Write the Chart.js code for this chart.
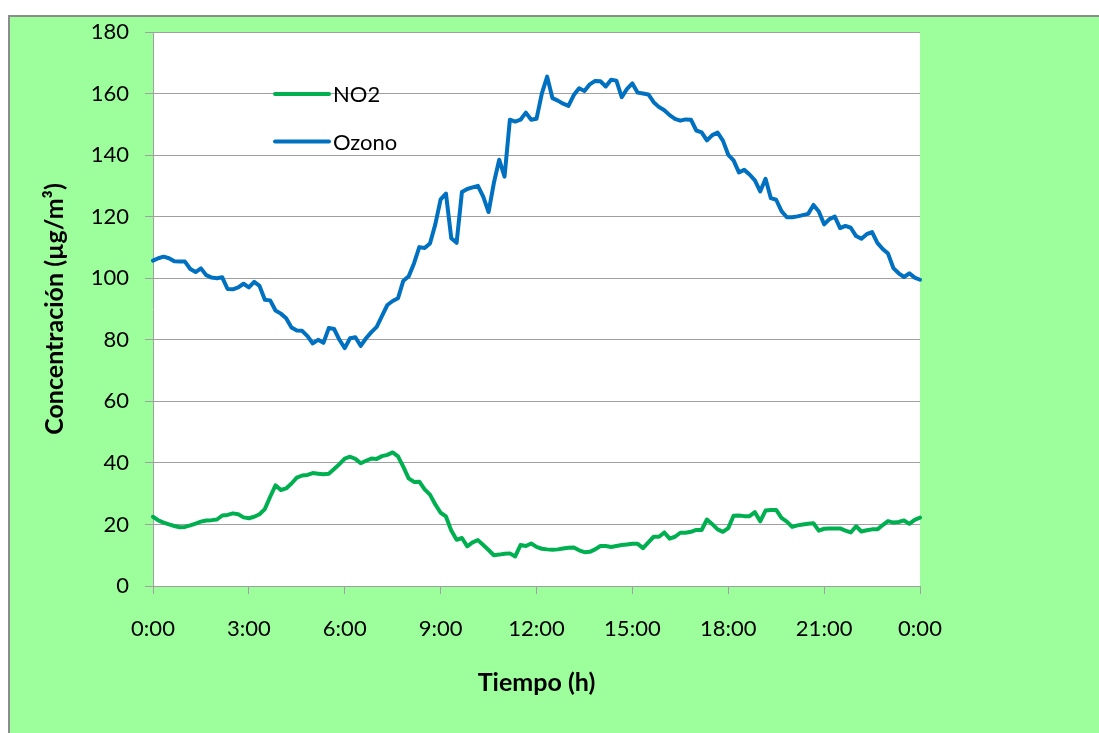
<!DOCTYPE html>
<html>
<head>
<meta charset="utf-8">
<script src="https://cdn.jsdelivr.net/npm/chart.js@4"></script>
<style>
    html, body { margin: 0; padding: 0; background: #fff; }
    #wrap { position: relative; width: 1099px; height: 733px; overflow: hidden; }
    #bg { position: absolute; left: 8px; top: 15px; width: 1200px; height: 800px; background: #9cff9c; border-left: 2px solid #8c8c8c; border-top: 2px solid #8c8c8c; }
    canvas { position: absolute; left: 0; top: 0; }
</style>
</head>
<body>
<div id="wrap">
    <div id="bg"></div>
    <canvas id="chart" width="1099" height="733"></canvas>
</div>
<script>
// one reading every 10 minutes, 0:00 to 24:00
const times = [];
for (let m = 0; m <= 24 * 60; m += 10) {
    times.push(Math.floor(m / 60) % 24 + ':' + String(m % 60).padStart(2, '0'));
}
const seriesNames = ['NO2', 'Ozono'];
const no2 = [
    22.5, 21.3, 20.6, 20, 19.5, 19.1, 19.2, 19.7, 20.3, 20.9,
    21.3, 21.4, 21.6, 22.9, 23.1, 23.6, 23.3, 22.3, 22, 22.5,
    23.3, 25, 29, 32.7, 31.2, 31.7, 33.3, 35.2, 35.9, 36.1,
    36.7, 36.5, 36.3, 36.5, 38, 39.6, 41.4, 42, 41.3, 39.9,
    40.7, 41.4, 41.3, 42.2, 42.6, 43.4, 42.1, 38.7, 35, 33.8,
    33.9, 31.4, 29.7, 26.5, 23.8, 22.6, 18, 15, 15.6, 12.9,
    14.2, 14.9, 13.3, 11.7, 10, 10.2, 10.5, 10.6, 9.6, 13.3,
    13, 13.8, 12.7, 12.1, 11.9, 11.8, 11.9, 12.2, 12.4, 12.5,
    11.6, 11, 11.1, 11.9, 13, 13, 12.7, 13, 13.3, 13.5,
    13.7, 13.7, 12.3, 14.2, 16, 16, 17.4, 15.4, 16, 17.3,
    17.3, 17.6, 18.2, 18.2, 21.6, 20.1, 18.4, 17.6, 18.8, 22.8,
    22.9, 22.7, 22.7, 24, 21, 24.5, 24.7, 24.7, 22.1, 20.9,
    19.2, 19.7, 20, 20.2, 20.4, 18, 18.6, 18.7, 18.7, 18.7,
    18, 17.4, 19.4, 17.7, 18.1, 18.4, 18.4, 19.8, 21.1, 20.6,
    20.8, 21.3, 20.2, 21.5, 22.2
];
const ozono = [
    105.7, 106.5, 107, 106.5, 105.5, 105.4, 105.4, 103, 102, 103.2,
    101, 100.2, 100, 100.3, 96.5, 96.4, 97, 98.2, 97, 98.8,
    97.5, 93, 92.8, 89.5, 88.5, 87, 84, 83, 82.9, 81.2,
    78.8, 80, 79, 83.8, 83.5, 80, 77.3, 80.5, 80.8, 78,
    80.5, 82.5, 84.2, 87.8, 91.3, 92.6, 93.5, 99.2, 100.6, 104.8,
    110.1, 109.8, 111.3, 117.5, 125.6, 127.5, 113, 111.5, 128, 129,
    129.5, 130, 126.5, 121.5, 131, 138.5, 133, 151.5, 150.9, 151.5,
    153.8, 151.5, 151.8, 160, 165.5, 158.5, 157.7, 156.7, 156, 159.5,
    161.7, 160.8, 163, 164.1, 164, 162.3, 164.5, 164.2, 158.8, 161.5,
    163.3, 160.3, 160, 159.7, 157.2, 155.6, 154.6, 153, 151.8, 151.2,
    151.6, 151.5, 148, 147.4, 144.8, 146.5, 147.3, 144.7, 140.1, 138.3,
    134.4, 135.2, 133.7, 131.8, 128.2, 132.3, 126, 125.5, 121.8, 119.8,
    119.8, 120.1, 120.5, 120.9, 123.8, 121.7, 117.5, 119.2, 120, 116.3,
    117, 116.4, 113.7, 112.8, 114.3, 115, 111.5, 109.5, 108, 103.3,
    101.6, 100.4, 101.6, 100.2, 99.5
];
const colors = ['#00b050', '#0070c0'];

const fontFamily = 'Lato, "Open Sans", sans-serif';
const gridColor = '#a0a0a0';

// white plot area on the green chart background
const plotBackground = {
    id: 'plotBackground',
    beforeDraw(chart) {
        const a = chart.chartArea;
        chart.ctx.save();
        chart.ctx.fillStyle = '#fff';
        chart.ctx.fillRect(a.left, a.top, a.right - a.left, a.bottom - a.top);
        chart.ctx.restore();
    }
};

// legend drawn inside the plot, like the spreadsheet one
const innerLegend = {
    id: 'innerLegend',
    afterDatasetsDraw(chart) {
        const ctx = chart.ctx;
        const area = chart.chartArea;
        ctx.save();
        ctx.font = '22px ' + fontFamily;
        ctx.textBaseline = 'middle';
        chart.data.datasets.forEach((ds, i) => {
            const y = area.top + 62 + i * 47.5;
            const x = area.left + 122;
            ctx.strokeStyle = ds.borderColor;
            ctx.lineWidth = 4;
            ctx.lineCap = 'round';
            ctx.beginPath();
            ctx.moveTo(x, y);
            ctx.lineTo(x + 54, y);
            ctx.stroke();
            ctx.fillStyle = '#000';
            ctx.fillText(ds.label, x + 58, y + 1);
        });
        ctx.restore();
    }
};

new Chart(document.getElementById('chart'), {
    type: 'line',
    data: {
        labels: times,
        datasets: [
            { label: seriesNames[0], data: no2, borderColor: colors[0], backgroundColor: colors[0] },
            { label: seriesNames[1], data: ozono, borderColor: colors[1], backgroundColor: colors[1] }
        ]
    },
    options: {
        responsive: false,
        animation: false,
        devicePixelRatio: 1,
        elements: {
            line: { borderWidth: 4, tension: 0, borderJoinStyle: 'round', borderCapStyle: 'round' },
            point: { radius: 0 }
        },
        layout: { padding: { left: 10, top: 32, right: 179, bottom: 0 } },
        plugins: {
            legend: { display: false },
            tooltip: { enabled: false }
        },
        scales: {
            x: {
                type: 'category',
                offset: false,
                afterFit: scale => { scale.height = 147; },
                border: { display: true, color: gridColor, width: 1 },
                grid: { drawOnChartArea: false, drawTicks: true, tickLength: 8, color: gridColor },
                ticks: {
                    autoSkip: false,
                    maxRotation: 0,
                    padding: 22,
                    color: '#000',
                    font: { family: fontFamily, size: 22 },
                    callback: function(value, index) {
                        return index % 18 === 0 ? this.getLabelForValue(value) : null;
                    }
                },
                title: {
                    display: true,
                    text: 'Tiempo (h)',
                    color: '#000',
                    font: { family: fontFamily, size: 25, weight: 'bold' },
                    padding: { top: 0, bottom: 35 }
                }
            },
            y: {
                min: 0,
                max: 180,
                afterFit: scale => { scale.width = 143; },
                border: { display: true, color: gridColor, width: 1 },
                grid: { color: gridColor, tickLength: 8 },
                ticks: {
                    stepSize: 20,
                    padding: 16,
                    color: '#000',
                    font: { family: fontFamily, size: 22 }
                },
                title: {
                    display: true,
                    text: 'Concentración (µg/m³)',
                    color: '#000',
                    font: { family: fontFamily, size: 25, weight: 'bold' },
                    padding: { top: 30, bottom: 0 }
                }
            }
        }
    },
    plugins: [plotBackground, innerLegend]
});
</script>
</body>
</html>
